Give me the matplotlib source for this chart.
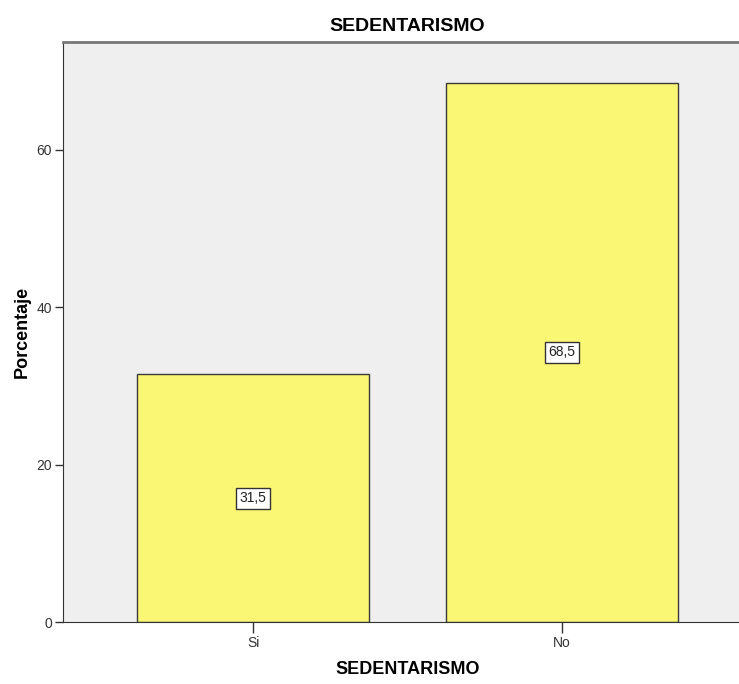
import matplotlib
matplotlib.use("Agg")
import matplotlib.pyplot as plt

categories = ["Si", "No"]
percentages = [31.5, 68.5]
value_labels = ["31,5", "68,5"]
y_ticks = [0, 20, 40, 60]

plt.rcParams["font.family"] = ["Liberation Sans", "DejaVu Sans"]

fig = plt.figure(figsize=(7.39, 6.84), dpi=100)
fig.patch.set_facecolor("white")
ax = fig.add_axes([63 / 739, 62 / 684, 689 / 739, 580 / 684])
ax.set_facecolor("#efefef")

x = list(range(len(categories)))
ax.bar(x, percentages, width=0.75, color="#faf775", edgecolor="#3a3a3a", linewidth=1.0, zorder=2)

# value boxes at mid-height of each bar
for xi, v, lab in zip(x, percentages, value_labels):
    ax.text(xi, v / 2, lab, ha="center", va="center", fontsize=10, color="#222222", zorder=3,
            bbox=dict(boxstyle="square,pad=0.25", facecolor="white", edgecolor="#333333", linewidth=1.0))

ax.set_xlim(-0.615, 1.615)
ax.set_ylim(0, 73.7)
ax.set_xticks(x)
ax.set_xticklabels(categories)
ax.set_yticks(y_ticks)

ax.tick_params(axis="y", direction="out", length=6, width=1, colors="#333333", labelsize=10, pad=2)
ax.tick_params(axis="x", direction="out", length=8, width=1, colors="#333333", labelsize=10, pad=2)

ax.spines["left"].set_color("#333333")
ax.spines["bottom"].set_color("#333333")
ax.spines["top"].set_color("#777777")
ax.spines["top"].set_linewidth(2)
ax.spines["right"].set_visible(False)

ax.set_title("SEDENTARISMO", fontsize=14, fontweight="bold", pad=8)
ax.set_ylabel("Porcentaje", fontsize=13, fontweight="bold", labelpad=4)
ax.set_xlabel("SEDENTARISMO", fontsize=13, fontweight="bold", labelpad=8)

fig.savefig("out.png", dpi=100, facecolor=fig.get_facecolor())
